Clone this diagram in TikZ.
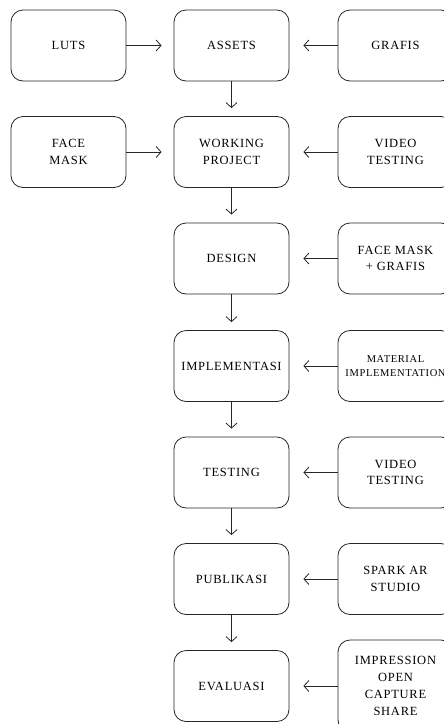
\documentclass[tikz,border=0pt]{standalone}
\usepackage{fontspec}
\setmainfont{Liberation Serif}[LetterSpace=6]
\usetikzlibrary{arrows.meta}
\tikzset{
  box/.style={draw=black!85, line width=0.8pt, rounded corners=12pt, minimum width=115pt, minimum height=71pt, align=center, inner sep=0pt, font=\fontsize{12.5}{16.5}\selectfont},
  flow/.style={draw=black!85, line width=0.8pt, -{Straight Barb[length=5pt,width=11pt,line width=0.8pt]}},
}
\begin{document}
\begin{tikzpicture}[x=1pt,y=1pt]
\useasboundingbox (0,0) rectangle (444,-724);
\clip (0,0) rectangle (444,-724);
% middle column
\node[box] (assets) at (231.5,-45.5) {ASSETS};
\node[box] (work) at (231.5,-152) {WORKING\\PROJECT};
\node[box] (design) at (231.5,-258.5) {DESIGN};
\node[box] (impl) at (231.5,-366) {IMPLEMENTASI};
\node[box] (test) at (231.5,-472.5) {TESTING};
\node[box] (pub) at (231.5,-579) {PUBLIKASI};
\node[box] (eval) at (231.5,-686) {EVALUASI};
% left column
\node[box] (luts) at (68.5,-45.5) {LUTS};
\node[box] (fmask) at (68.5,-152) {FACE\\MASK};
% right column
\node[box] (grafis) at (395.5,-45.5) {GRAFIS};
\node[box] (vid1) at (395.5,-152) {VIDEO\\TESTING};
\node[box] (fmg) at (395.5,-258.5) {FACE MASK\\+ GRAFIS};
\node[box, font=\fontsize{10.5}{14}\selectfont] (mat) at (395.5,-366) {MATERIAL\\IMPLEMENTATION};
\node[box] (vid2) at (395.5,-472.5) {VIDEO\\TESTING};
\node[box] (spark) at (395.5,-579) {SPARK AR\\STUDIO};
\node[box, minimum height=92pt, font=\fontsize{12.5}{17}\selectfont] (imp) at (395.5,-686) {IMPRESSION\\OPEN\\CAPTURE\\SHARE};
% vertical arrows
\draw[flow, shorten >=8pt] (assets) -- (work);
\draw[flow, shorten >=8pt] (work) -- (design);
\draw[flow, shorten >=8pt] (design) -- (impl);
\draw[flow, shorten >=8pt] (impl) -- (test);
\draw[flow, shorten >=8pt] (test) -- (pub);
\draw[flow, shorten >=8pt] (pub) -- (eval);
% left arrows
\draw[flow, shorten >=12pt] (luts) -- (assets);
\draw[flow, shorten >=12pt] (fmask) -- (work);
% right arrows
\draw[flow, shorten >=14pt] (grafis) -- (assets);
\draw[flow, shorten >=14pt] (vid1) -- (work);
\draw[flow, shorten >=14pt] (fmg) -- (design);
\draw[flow, shorten >=14pt] (mat) -- (impl);
\draw[flow, shorten >=14pt] (vid2) -- (test);
\draw[flow, shorten >=14pt] (spark) -- (pub);
\draw[flow, shorten >=14pt] (imp.west) -- (eval.east);
\end{tikzpicture}
\end{document}
